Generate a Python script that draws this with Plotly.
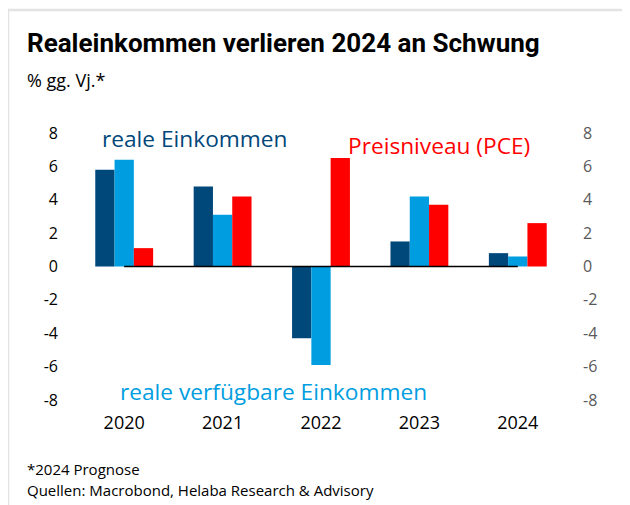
import plotly.graph_objects as go

years = ["2020", "2021", "2022", "2023", "2024"]
reale_einkommen = [5.8, 4.8, -4.3, 1.5, 0.8]
reale_verfuegbare = [6.4, 3.1, -5.9, 4.2, 0.6]
preisniveau = [1.1, 4.2, 6.5, 3.7, 2.6]
y_ticks = [-8, -6, -4, -2, 0, 2, 4, 6, 8]
y_ticktext = [str(v) for v in y_ticks]

DARK = "#00477A"
LIGHT = "#009EE0"
RED = "#FF0000"
FONT = "Open Sans"
TFONT = "Roboto"

OFF = 8  # page body margin
W, H = 630, 505
L, T = 75 - OFF, 133 - OFF
R = W - (567 - OFF)
B = H - (400 - OFF)
PW, PH = W - L - R, H - T - B


def px(x):
    return (x - OFF - L) / PW


def py(y):
    return (H - B - (y - OFF)) / PH


BW = 0.196
fig = go.Figure()
fig.add_trace(go.Bar(x=years, y=reale_einkommen, marker_color=DARK, marker_line_width=0,
                     width=BW, offset=-1.5 * BW, name="reale Einkommen"))
fig.add_trace(go.Bar(x=years, y=reale_verfuegbare, marker_color=LIGHT, marker_line_width=0,
                     width=BW, offset=-0.5 * BW, name="reale verfügbare Einkommen"))
fig.add_trace(go.Bar(x=years, y=preisniveau, marker_color=RED, marker_line_width=0,
                     width=BW, offset=0.5 * BW, name="Preisniveau (PCE)", yaxis="y2"))
fig.add_trace(go.Scatter(x=years, y=[0] * len(years), mode="lines", line=dict(color="black", width=1.5),
                         hoverinfo="skip", showlegend=False, yaxis="y2"))

fig.update_layout(
    width=W, height=H,
    margin=dict(l=L, r=R, t=T, b=B),
    paper_bgcolor="white", plot_bgcolor="white",
    showlegend=False,
    barmode="overlay",
    font=dict(family=FONT, color="black"),
    xaxis=dict(showgrid=False, zeroline=False, showline=False, ticks="", range=[-0.5, 4.5],
               tickfont=dict(size=18, color="black"), ticklabelstandoff=10),
    yaxis=dict(range=[-8, 8], tickvals=y_ticks, ticktext=y_ticktext, showgrid=False, zeroline=False,
               showline=False, ticks="", tickfont=dict(size=16, color="black"), ticklabelstandoff=16),
    yaxis2=dict(range=[-8, 8], tickvals=y_ticks, ticktext=y_ticktext, overlaying="y", side="right",
                showgrid=False, zeroline=False, showline=False, ticks="",
                tickfont=dict(size=16, color="#595959"), ticklabelstandoff=15),
)

annotations = [
    dict(text="<b>Realeinkommen verlieren 2024 an Schwung</b>", x=px(25), y=py(43.5), xanchor="left",
         yanchor="middle", font=dict(family=TFONT, size=26, color="black")),
    dict(text="% gg. Vj.*", x=px(25), y=py(80), xanchor="left", yanchor="middle",
         font=dict(size=18, color="black")),
    dict(text="reale Einkommen", x=px(194.5), y=py(138), xanchor="center", yanchor="middle",
         font=dict(size=22.7, color=DARK)),
    dict(text="Preisniveau (PCE)", x=px(439), y=py(145), xanchor="center", yanchor="middle",
         font=dict(size=22.7, color=RED)),
    dict(text="reale verfügbare Einkommen", x=px(273), y=py(391.5), xanchor="center", yanchor="middle",
         font=dict(size=22.7, color=LIGHT)),
    dict(text="*2024 Prognose", x=px(25), y=py(469), xanchor="left", yanchor="middle",
         font=dict(size=15, color="black")),
    dict(text="Quellen: Macrobond, Helaba Research & Advisory", x=px(25), y=py(490), xanchor="left",
         yanchor="middle", font=dict(size=15, color="black")),
]
for a in annotations:
    a.update(xref="paper", yref="paper", showarrow=False)
fig.update_layout(annotations=annotations)

fig.update_layout(shapes=[
    dict(type="line", xref="paper", yref="paper", x0=px(8), x1=px(660), y0=py(10), y1=py(10),
         line=dict(color="#E3E3E3", width=2.5), layer="below"),
    dict(type="line", xref="paper", yref="paper", x0=px(8), x1=px(8), y0=py(10), y1=py(540),
         line=dict(color="#E3E3E3", width=2.5), layer="below"),
])

fig.write_html("out.html")
